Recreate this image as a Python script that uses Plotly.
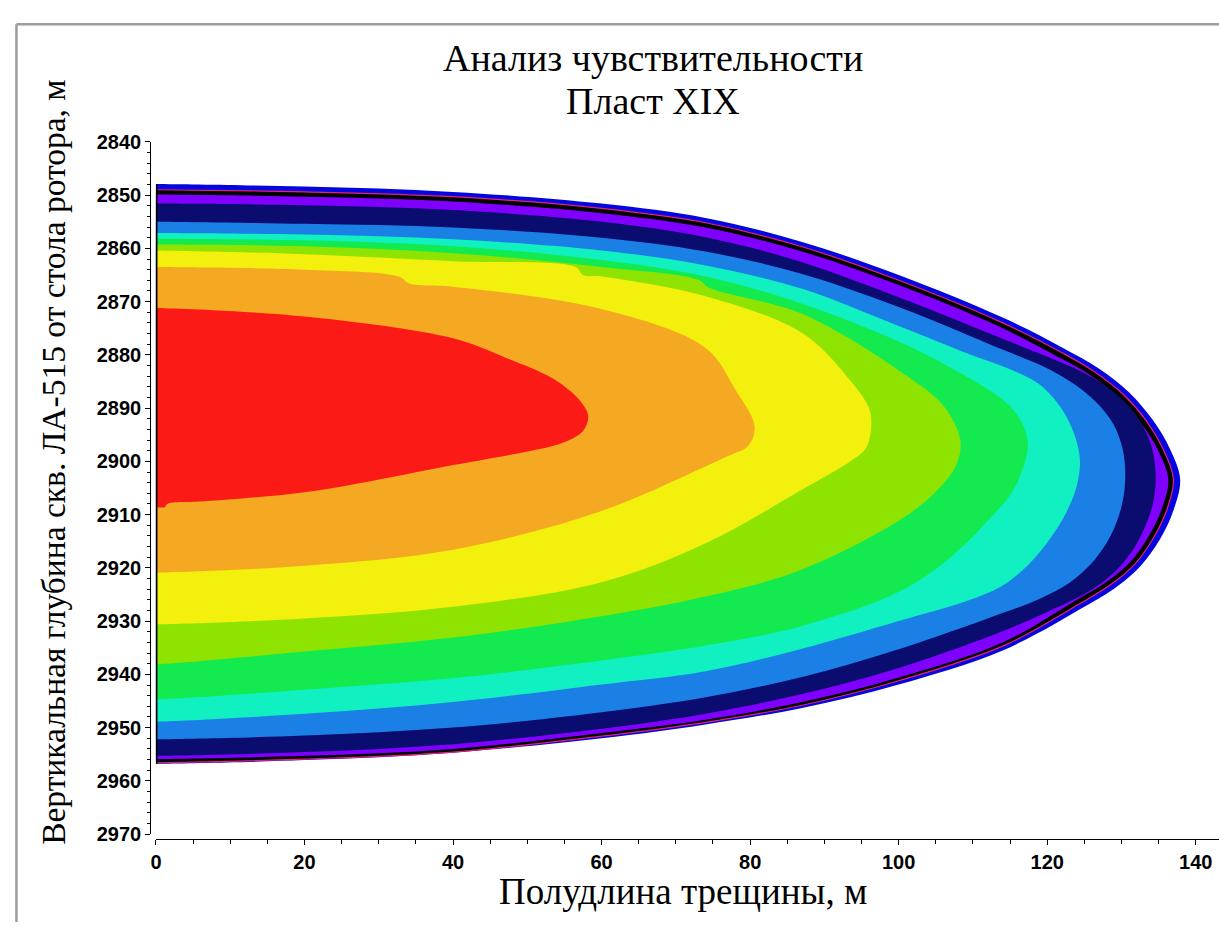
import plotly.graph_objects as go

# Outer boundary of each coloured band: (half-length, m ; depth, m),
# along the top edge from the well outwards, then back along the bottom edge.
edge_outline = [
    (0, 2847.9), (20, 2848.4), (40, 2849.4), (60, 2851.6), (74, 2854.3), (87, 2858.8),
    (100, 2865.0), (114, 2873.0), (122, 2878.6), (127, 2882.6), (131, 2887.0), (134.2, 2892.2),
    (136.5, 2897.6), (137.9, 2903.4),
    (137.0, 2909.2), (135.2, 2914.6), (132.6, 2919.6), (129.5, 2923.4), (125, 2927.3), (114, 2935.5),
    (100, 2941.9), (87, 2946.3), (74, 2949.4), (60, 2952.0), (40, 2954.7), (20, 2956.1), (0, 2956.8),
]
black_outline = [
    (0, 2849.0), (20, 2849.4), (40, 2850.3), (60, 2852.5), (74, 2855.2), (87, 2859.7),
    (100, 2866.0), (114, 2874.0), (122, 2879.6), (126.4, 2883.2), (130.3, 2887.5), (133.4, 2892.5),
    (135.6, 2897.7), (137.0, 2903.4),
    (136.1, 2909.1), (134.3, 2914.4), (131.8, 2919.3), (128.7, 2923.0), (124.3, 2926.8), (114, 2934.7),
    (100, 2941.2), (87, 2945.8), (74, 2949.0), (60, 2951.6), (40, 2954.6), (20, 2955.9), (0, 2956.6),
]
purple_outline = [
    (0, 2849.9), (20, 2850.3), (40, 2851.2), (60, 2853.4), (74, 2856.1), (87, 2860.6),
    (100, 2866.9), (114, 2875.0), (122, 2880.8), (126, 2884.0), (129.7, 2888.1), (132.7, 2893.0),
    (134.9, 2897.9), (136.3, 2903.4),
    (135.4, 2909.0), (133.6, 2914.2), (131.1, 2919.0), (128.0, 2922.6), (123.6, 2926.3), (114, 2934.0),
    (100, 2940.6), (87, 2945.2), (74, 2948.5), (60, 2951.0), (40, 2954.0), (20, 2955.3), (0, 2955.9),
]
navy_outline = [
    (0, 2851.6), (20, 2851.9), (40, 2852.8), (60, 2855.0), (74, 2857.9), (87, 2862.6),
    (100, 2869.2), (114, 2877.0), (121, 2880.9), (125, 2883.4), (128.8, 2886.8), (131.9, 2891.2),
    (133.7, 2895.8), (134.4, 2899.5), (134.6, 2903.4),
    (134.3, 2907.5), (133.4, 2911.5), (131.6, 2916.5), (128.9, 2921.0), (125.5, 2924.5), (120, 2928.3),
    (114, 2931.9), (100, 2938.8), (87, 2943.7), (74, 2947.4), (60, 2950.2), (40, 2953.1),
    (20, 2954.6), (0, 2955.3),
]
blue_outline = [
    (0, 2855.0), (20, 2855.4), (40, 2856.1), (60, 2858.0), (74, 2860.6), (87, 2864.8),
    (100, 2871.0), (114, 2879.0), (119.5, 2882.2), (123.5, 2885.4), (126.6, 2888.9), (128.9, 2893.0),
    (130.2, 2898.0), (130.5, 2903.4),
    (130.0, 2908.5), (128.6, 2913.8), (126.3, 2918.6), (123, 2922.8), (119, 2925.8), (114, 2928.5),
    (100, 2935.3), (87, 2940.5), (74, 2944.3), (60, 2947.1), (40, 2950.0), (20, 2951.5), (0, 2952.2),
]
cyan_outline = [
    (0, 2857.1), (20, 2857.4), (40, 2858.3), (60, 2860.4), (74, 2863.2), (87, 2867.6),
    (100, 2874.6), (109, 2879.6), (115, 2882.7), (118.8, 2885.4), (121.5, 2889.3), (123.4, 2894.0),
    (124.4, 2899.5), (124.0, 2904.5),
    (122.6, 2909.5), (120.4, 2914.5), (117.4, 2919.5), (114, 2923.3), (110, 2925.8), (100, 2930.0),
    (87, 2935.2), (74, 2939.4), (60, 2941.9), (40, 2945.2), (20, 2947.4), (0, 2948.9),
]
green_outline = [
    (0, 2858.2), (20, 2858.5), (40, 2859.6), (60, 2862.2), (74, 2865.3), (87, 2870.4),
    (100, 2877.5), (107, 2882.4), (113.8, 2888.2), (116.3, 2892.0), (117.4, 2896.7),
    (116.8, 2901.0), (115.4, 2905.5), (113.8, 2908.4), (107, 2918.0), (100, 2924.5),
    (87, 2930.9), (74, 2934.6), (60, 2937.4), (40, 2940.7), (20, 2942.9), (0, 2944.7),
]
lime_outline = [
    (0, 2859.3), (20, 2859.6), (40, 2860.9), (60, 2863.5), (73, 2865.9), (74.5, 2867.4),
    (87, 2872.3), (100.4, 2883.3), (106, 2889.5), (108.3, 2896.0),
    (107.8, 2900.5), (105.5, 2905.0), (100.4, 2910.8), (87, 2920.3), (74, 2925.4),
    (60, 2929.1), (40, 2933.1), (20, 2935.7), (0, 2938.1),
]
yellow_outline = [
    (0, 2860.4), (20, 2861.1), (40, 2862.4), (56.5, 2863.5), (57.5, 2865.0), (60, 2865.3),
    (74, 2869.0), (87, 2875.9), (93, 2884.0), (96, 2890.0), (96.3, 2893.5),
    (95.6, 2897.5), (93.7, 2899.8), (87, 2905.3), (74, 2915.4), (60, 2922.7),
    (40, 2927.3), (20, 2929.5), (0, 2930.6),
]
orange_outline = [
    (0, 2863.5), (20, 2864.0), (32.7, 2865.3), (34.1, 2866.6), (40, 2867.2), (60, 2871.4),
    (74, 2878.7), (78, 2886.5), (80.6, 2893.4),
    (79.8, 2897.0), (77, 2899.0), (73.6, 2901.2), (60, 2909.3), (40, 2916.6),
    (20, 2919.6), (0, 2920.9),
]
red_outline = [
    (0, 2871.2), (20, 2872.8), (40, 2876.9), (47, 2880.5), (53.5, 2884.5), (57, 2888.5),
    (58.2, 2891.5),
    (57.5, 2894.3), (54.8, 2896.5), (49.5, 2898.3), (40, 2900.7), (33.4, 2902.5),
    (20, 2905.8), (6.6, 2907.5), (1.5, 2908.0), (1.2, 2908.6), (0, 2908.6),
]

bands = [
    (edge_outline, "#0505e0"),
    (black_outline, "#000000"),
    (purple_outline, "#8000ff"),
    (navy_outline, "#0b0c70"),
    (blue_outline, "#1b80e6"),
    (cyan_outline, "#10f0c0"),
    (green_outline, "#12ea50"),
    (lime_outline, "#8ee400"),
    (yellow_outline, "#f2f00c"),
    (orange_outline, "#f5a822"),
    (red_outline, "#fc1a16"),
]

x_ticks = [0, 20, 40, 60, 80, 100, 120, 140]
y_ticks = [2840, 2850, 2860, 2870, 2880, 2890, 2900, 2910, 2920, 2930, 2940, 2950, 2960, 2970]

W, H = 1219, 933
PAD = 4.0  # the band outlines are carried a little past the wellbore so the clipped corners stay square


def open_path(outline):
    xs = [outline[0][0] - PAD] + [p[0] for p in outline] + [outline[-1][0] - PAD]
    ys = [outline[0][1]] + [p[1] for p in outline] + [outline[-1][1]]
    return xs, ys


fig = go.Figure()
for outline, colour in bands:
    xs, ys = open_path(outline)
    fig.add_trace(go.Scatter(
        x=xs + [xs[0]], y=ys + [ys[0]], mode="lines", fill="toself", fillcolor=colour,
        line=dict(width=0, color=colour, shape="spline", smoothing=1.0),
        hoverinfo="skip", showlegend=False,
    ))

# thin magenta rim on the outside of the black band
rim_x, rim_y = open_path(black_outline)
fig.add_trace(go.Scatter(
    x=rim_x, y=rim_y, mode="lines",
    line=dict(width=1.2, color="#e8207a", shape="spline", smoothing=1.0),
    hoverinfo="skip", showlegend=False,
))
# black edge along the wellbore side
fig.add_trace(go.Scatter(
    x=[0, 0], y=[edge_outline[0][1], edge_outline[-1][1]], mode="lines",
    line=dict(width=3, color="#000000"), hoverinfo="skip", showlegend=False,
))

tick_font = dict(family="Liberation Sans, Arial", size=20, color="#000000", weight="bold")
serif = "Liberation Serif, Times New Roman"

fig.update_layout(
    width=W, height=H,
    margin=dict(l=0, r=0, t=0, b=0),
    paper_bgcolor="white", plot_bgcolor="white",
    showlegend=False,
    xaxis=dict(
        domain=[150.7 / W, 1.0], range=[0, 143.13],
        anchor="free", position=1 - 848 / H,
        showgrid=False, zeroline=False, showline=True, linecolor="#000000", linewidth=1.2,
        tickvals=x_ticks, ticks="outside", ticklen=5, tickcolor="#000000", tickwidth=1,
        tickfont=tick_font,
        minor=dict(dtick=5, ticks="outside", ticklen=4, tickcolor="#000000", tickwidth=1),
    ),
    yaxis=dict(
        domain=[1 - 843 / H, 1 - 134 / H], range=[2970, 2840],
        anchor="free", position=145 / W,
        showgrid=False, zeroline=False, showline=True, linecolor="#000000", linewidth=1.2,
        tickvals=y_ticks, ticks="outside", ticklen=5, tickcolor="#000000", tickwidth=1,
        tickfont=tick_font,
        minor=dict(dtick=2, ticks="outside", ticklen=3, tickcolor="#000000", tickwidth=1),
    ),
    shapes=[
        dict(type="line", xref="paper", yref="paper",
             x0=10.5 / W, y0=0, x1=10.5 / W, y1=1 - 13.5 / H,
             line=dict(color="#9c9c9c", width=2.5)),
        dict(type="line", xref="paper", yref="paper",
             x0=10.5 / W, y0=1 - 13.5 / H, x1=1.0, y1=1 - 13.5 / H,
             line=dict(color="#9c9c9c", width=2.5)),
    ],
    annotations=[
        dict(text="Анализ чувствительности", xref="paper", yref="paper",
             x=650 / W, y=1 - 48 / H, xanchor="center", yanchor="middle", showarrow=False,
             font=dict(family=serif, size=38, color="#000000")),
        dict(text="Пласт XIX", xref="paper", yref="paper",
             x=650 / W, y=1 - 92 / H, xanchor="center", yanchor="middle", showarrow=False,
             font=dict(family=serif, size=38, color="#000000")),
        dict(text="Полудлина трещины, м", xref="paper", yref="paper",
             x=680 / W, y=1 - 902 / H, xanchor="center", yanchor="middle", showarrow=False,
             font=dict(family=serif, size=37, color="#000000")),
        dict(text="Вертикальная глубина скв. ЛА-515 от стола ротора, м", xref="paper", yref="paper",
             x=47 / W, y=1 - 462 / H, xanchor="center", yanchor="middle", showarrow=False,
             textangle=-90,
             font=dict(family=serif, size=33.5, color="#000000")),
    ],
)

fig.write_html("out.html")
